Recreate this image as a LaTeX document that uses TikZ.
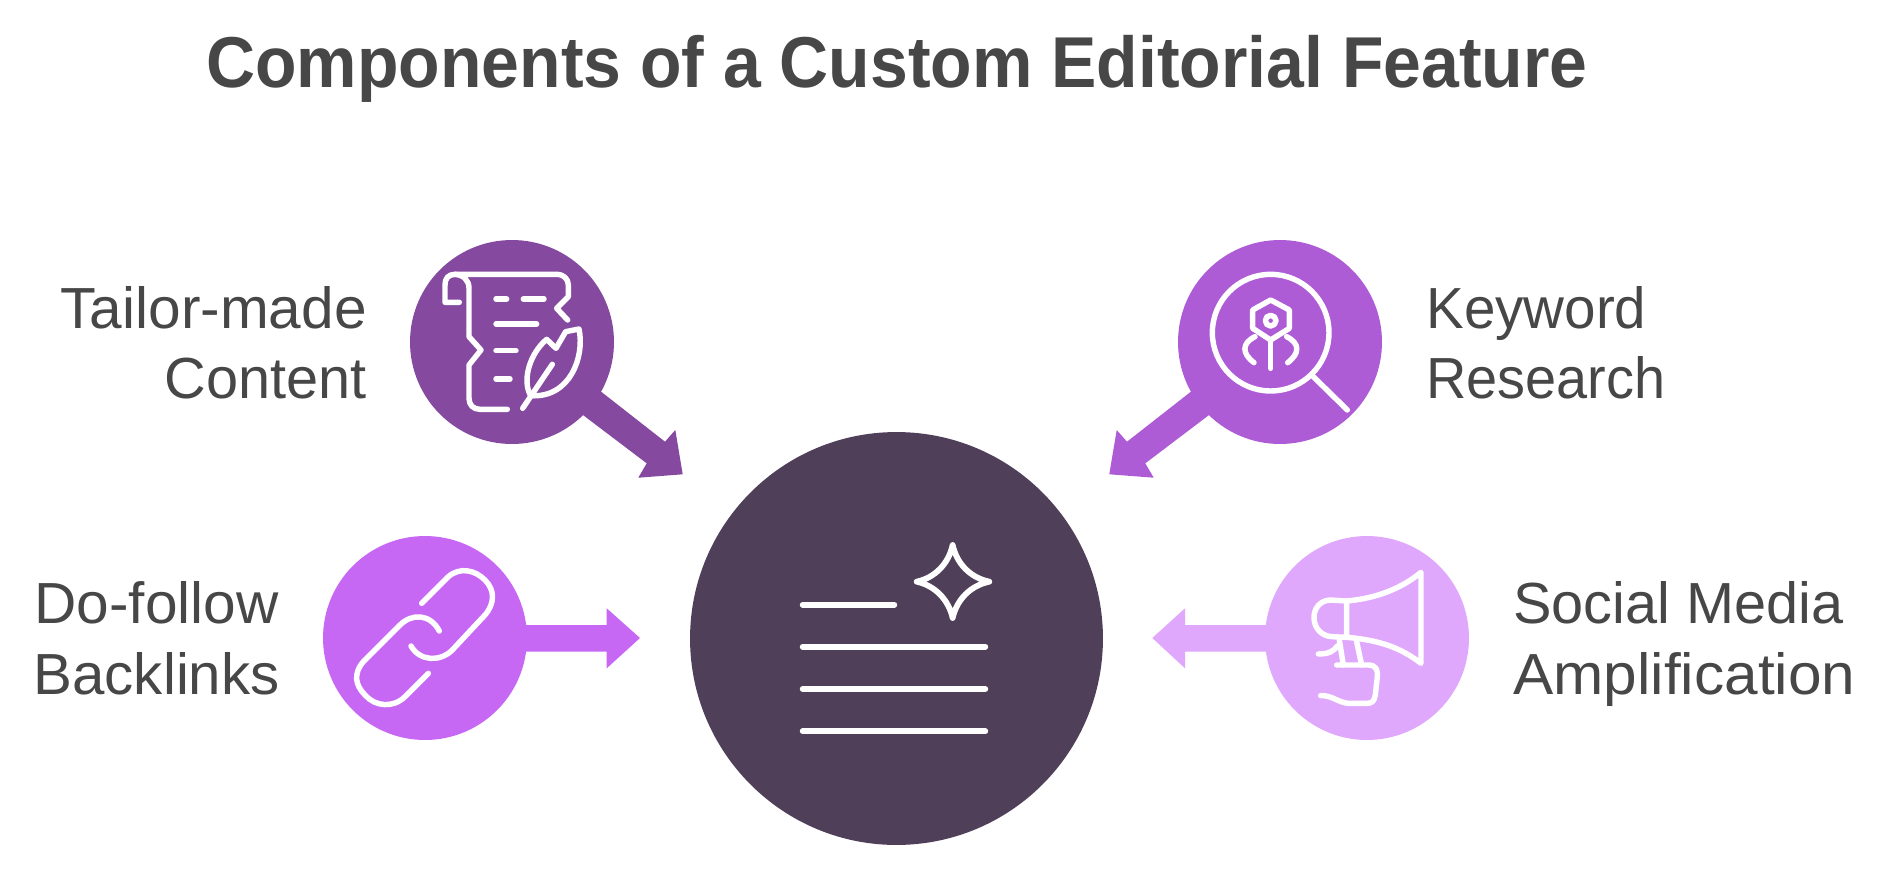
\documentclass[tikz,border=0pt]{standalone}
\usepackage{fontspec}
\usepackage{graphicx}
\setmainfont{Liberation Sans}
\definecolor{txt}{HTML}{474747}
\definecolor{cA}{HTML}{8549A0}
\definecolor{cB}{HTML}{AE5BD6}
\definecolor{cC}{HTML}{C768F5}
\definecolor{cD}{HTML}{E0A8FC}
\definecolor{cE}{HTML}{4F3F58}
\newdimen\pxu
\pxu=0.02cm
\newcommand\fitw[2]{\resizebox{#1\pxu}{\height}{#2}}
\tikzset{
  ttl/.style={inner sep=0pt,text=txt,font=\fontsize{41}{41}\selectfont\bfseries},
  lbl/.style={inner sep=0pt,text=txt,font=\fontsize{33}{33}\selectfont},
  disc/.style={circle,inner sep=0pt,minimum size=4.08cm},
  ic/.style={draw=white,line width=3.1pt,line cap=round,line join=round},
  ict/.style={draw=white,line width=3.3pt,line cap=round,line join=round},
  zoomed/.style={x=0.0066667cm,y=-0.0066667cm}
}
\begin{document}
\begin{tikzpicture}[x=0.02cm,y=-0.02cm]
\useasboundingbox (0,0) rectangle (1890,876);
\fill[white] (0,0) rectangle (1890,876);
% title
\node[ttl,anchor=base west] (title) at (206,87) {\fitw{1381}{Components of a Custom Editorial Feature}};
% labels
\node[lbl,anchor=base east] (l1a) at (367,328) {\fitw{306}{Tailor-made}};
\node[lbl,anchor=base east] (l1b) at (367,398) {\fitw{202}{Content}};
\node[lbl,anchor=base west] (l2a) at (1426,328) {\fitw{220}{Keyword}};
\node[lbl,anchor=base west] (l2b) at (1426,398) {\fitw{239}{Research}};
\node[lbl,anchor=base east] (l3a) at (279,623) {\fitw{244}{Do-follow}};
\node[lbl,anchor=base east] (l3b) at (280,694) {\fitw{246}{Backlinks}};
\node[lbl,anchor=base west] (l4a) at (1513,623) {\fitw{330}{Social Media}};
\node[lbl,anchor=base west] (l4b) at (1513,694) {\fitw{342}{Amplification}};
% discs
\node[disc,fill=cA] (tailor) at (512,342) {};
\node[disc,fill=cB] (keyword) at (1280,342) {};
\node[disc,fill=cC] (links) at (425,638) {};
\node[disc,fill=cD] (social) at (1367,638) {};
\node[circle,inner sep=0pt,minimum size=8.26cm,fill=cE] (center) at (896.5,638.5) {};
% arrows
\fill[cA] (590,383) -- (665,441.7) -- (675.3,430) -- (682.7,474.3) -- (638.3,477.7) -- (646.7,463.3) -- (572,406.7) -- cycle;
\fill[cB] (1202,383) -- (1127,441.7) -- (1116.7,430) -- (1109.3,474.3) -- (1153.7,477.7) -- (1145.3,463.3) -- (1220,406.7) -- cycle;
\fill[cC] (510,625) -- (606.7,625) -- (606.7,608.3) -- (640,638) -- (606.7,668.3) -- (606.7,651.7) -- (510,651.7) -- cycle;
\fill[cD] (1282,625) -- (1185,625) -- (1185,608.3) -- (1152.3,638) -- (1185,668.3) -- (1185,651.7) -- (1282,651.7) -- cycle;
% scroll + feather
\begin{scope}[shift={(400,230)},zoomed]
\draw[ic] (178,217) -- (135,217) -- (135,165) .. controls (135,145) and (145,133) .. (165,133) -- (470,133) .. controls (492,133) and (505,148) .. (505,165) -- (505,200) -- (470,235) -- (503,270);
\draw[ic] (165,133) .. controls (190,135) and (207,150) .. (207,175) -- (207,320) -- (243,360) -- (207,405) -- (207,505) .. controls (207,525) and (220,538) .. (240,538) -- (322,538);
\draw[ic] (288,207) -- (320,207) (370,207) -- (432,207) (288,282) -- (410,282) (288,362) -- (348,362) (288,447) -- (330,447);
\draw[ic] (392,497) .. controls (365,450) and (390,370) .. (440,328) -- (468,355) -- (497,305) -- (537,297) .. controls (555,380) and (510,505) .. (392,497) -- cycle;
\draw[ic] (368,535) -- (457,403);
\end{scope}
% magnifier
\begin{scope}[shift={(1100,230)},zoomed]
\draw[ic] (512,308) circle[radius=175];
\draw[ic] (640,440) -- (742,540);
\draw[ic] (512,210) -- (568,240) -- (568,295) -- (512,330) -- (458,295) -- (458,240) -- cycle;
\draw[ic] (512,272) circle[radius=16];
\draw[ic] (512,330) -- (512,415);
\draw[ic] (465,320) .. controls (425,340) and (425,370) .. (462,398);
\draw[ic] (560,320) .. controls (600,340) and (600,370) .. (563,398);
\end{scope}
% chain link
\begin{scope}[shift={(310,530)},zoomed]
\draw[ic] (335,220) -- (415,140) .. controls (450,110) and (495,120) .. (525,150) .. controls (555,180) and (555,220) .. (525,255) -- (425,362) .. controls (390,395) and (330,395) .. (303,348);
\draw[ic] (388,303) .. controls (360,250) and (305,250) .. (270,285) -- (160,395) .. controls (130,430) and (135,465) .. (165,495) .. controls (195,530) and (250,535) .. (285,500) -- (355,430);
\end{scope}
% megaphone
\begin{scope}[shift={(1140,530)},zoomed]
\draw[ic] (620,213) .. controls (710,205) and (785,175) .. (843,127) -- (843,400) .. controls (785,355) and (720,330) .. (620,322) -- cycle;
\draw[ic] (620,213) -- (570,210) .. controls (540,212) and (522,235) .. (522,262) .. controls (522,295) and (545,318) .. (575,320) -- (620,322);
\draw[ic] (598,330) -- (610,405);
\draw[ic] (650,335) -- (665,405);
\draw[ic] (535,372) .. controls (565,372) and (580,365) .. (592,348);
\draw[ic] (590,405) -- (685,405) .. controls (708,405) and (714,420) .. (712,440) -- (706,495) .. controls (703,515) and (695,520) .. (680,520) -- (625,520) .. controls (595,518) and (575,495) .. (542,497);
\end{scope}
% document with sparkle
\begin{scope}[shift={(780,530)},zoomed]
\draw[ict] (68,224) -- (343,224) (68,350) -- (616,350) (68,477) -- (616,477) (68,604) -- (616,604);
\draw[ict] (518,45) .. controls (530,100) and (570,143) .. (628,155) .. controls (570,167) and (530,210) .. (518,264) .. controls (506,210) and (466,167) .. (410,155) .. controls (466,143) and (506,100) .. (518,45) -- cycle;
\end{scope}
\end{tikzpicture}
\end{document}
